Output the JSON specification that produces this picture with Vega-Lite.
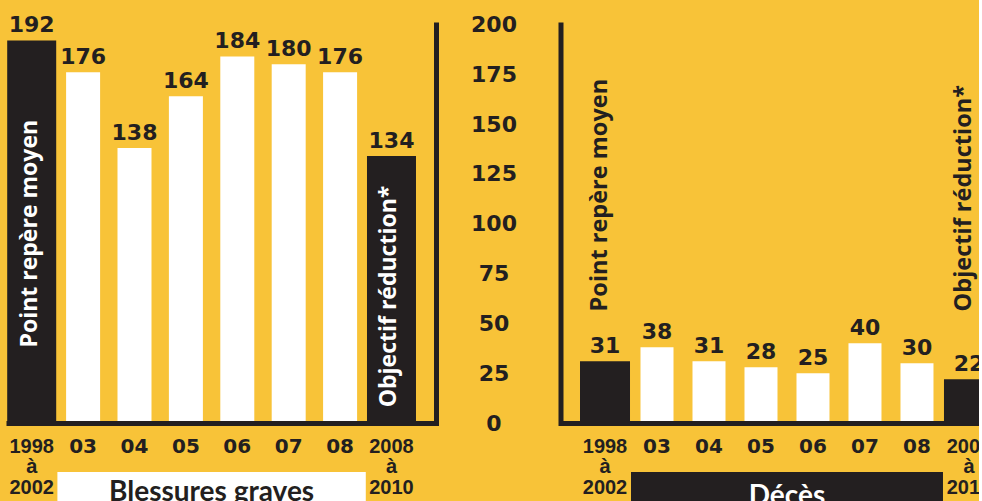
{
  "$schema": "https://vega.github.io/schema/vega-lite/v6.json",
  "background": "#F8C338",
  "padding": {"left": 6, "top": 13.5, "right": -32, "bottom": -12},
  "bounds": "flush",
  "spacing": 124.5,
  "resolve": {"scale": {"x": "independent", "y": "independent"}},
  "data": {
    "values": [
      {"panel": "Blessures graves", "periode": "1998 à 2002", "valeur": 192, "type": "moyenne", "note": "Point repère moyen"},
      {"panel": "Blessures graves", "periode": "03", "valeur": 176, "type": "annuel"},
      {"panel": "Blessures graves", "periode": "04", "valeur": 138, "type": "annuel"},
      {"panel": "Blessures graves", "periode": "05", "valeur": 164, "type": "annuel"},
      {"panel": "Blessures graves", "periode": "06", "valeur": 184, "type": "annuel"},
      {"panel": "Blessures graves", "periode": "07", "valeur": 180, "type": "annuel"},
      {"panel": "Blessures graves", "periode": "08", "valeur": 176, "type": "annuel"},
      {"panel": "Blessures graves", "periode": "2008 à 2010", "valeur": 134, "type": "objectif", "note": "Objectif réduction*"},
      {"panel": "Décès", "periode": "1998 à 2002", "valeur": 31, "type": "moyenne", "note": "Point repère moyen"},
      {"panel": "Décès", "periode": "03", "valeur": 38, "type": "annuel"},
      {"panel": "Décès", "periode": "04", "valeur": 31, "type": "annuel"},
      {"panel": "Décès", "periode": "05", "valeur": 28, "type": "annuel"},
      {"panel": "Décès", "periode": "06", "valeur": 25, "type": "annuel"},
      {"panel": "Décès", "periode": "07", "valeur": 40, "type": "annuel"},
      {"panel": "Décès", "periode": "08", "valeur": 30, "type": "annuel"},
      {"panel": "Décès", "periode": "2008 à 2010", "valeur": 22, "type": "objectif", "note": "Objectif réduction*"}
    ]
  },
  "hconcat": [
    {
      "width": 430,
      "height": 398.5,
      "transform": [{"filter": "datum.panel == 'Blessures graves'"}],
      "layer": [
        {
          "transform": [{"filter": "datum.type != 'annuel'"}],
          "mark": {"type": "bar", "size": 49, "color": "#231F20"},
          "encoding": {
            "x": {
              "field": "periode", "type": "nominal",
              "scale": {"domain": ["1998 à 2002", "03", "04", "05", "06", "07", "08", "2008 à 2010"], "paddingInner": 0, "paddingOuter": 0.183, "align": 0},
              "axis": {
                "title": null, "orient": "bottom", "domain": true, "domainColor": "#231F20", "domainWidth": 5,
                "ticks": false, "grid": false, "labelPadding": 13, "labelBaseline": "top", "labelLineHeight": 20.5,
                "labelAngle": 0, "labelOverlap": false, "labelBound": false, "labelFlush": false, "labelColor": "#231F20", "labelFontWeight": "bold",
                "labelFont": {"condition": {"test": "length(datum.value) > 2", "value": "Liberation Sans"}, "value": "DejaVu Sans"},
                "labelFontSize": {"condition": {"test": "length(datum.value) > 2", "value": 20}, "value": 20},
                "labelExpr": "datum.value == '1998 à 2002' ? ['1998', 'à', '2002'] : datum.value == '2008 à 2010' ? ['2008', 'à', '2010'] : datum.label",
                "zindex": 1
              }
            },
            "y": {
              "field": "valeur", "type": "quantitative",
              "scale": {"domain": [0, 200], "nice": false, "zero": true},
              "axis": {"title": null, "orient": "right", "labels": false, "ticks": false, "grid": false, "domain": true, "domainColor": "#231F20", "domainWidth": 5, "domainCap": "square", "zindex": 1}
            }
          }
        },
        {
          "transform": [{"filter": "datum.type == 'annuel'"}],
          "mark": {"type": "bar", "size": 34, "color": "#FFFFFF"},
          "encoding": {
            "x": {"field": "periode", "type": "nominal"},
            "y": {"field": "valeur", "type": "quantitative"}
          }
        },
        {
          "mark": {"type": "text", "baseline": "alphabetic", "dy": -8, "font": "DejaVu Sans", "fontSize": 22, "fontWeight": "bold", "color": "#231F20"},
          "encoding": {
            "x": {"field": "periode", "type": "nominal"},
            "y": {"field": "valeur", "type": "quantitative"},
            "text": {"field": "valeur", "type": "quantitative"}
          }
        },
        {
          "transform": [{"filter": "datum.periode == '1998 à 2002'"}],
          "mark": {"type": "text", "angle": 270, "align": "center", "baseline": "middle", "dy": -2, "font": "Open Sans", "fontSize": 23, "fontWeight": "bold", "color": "#FFFFFF"},
          "encoding": {
            "x": {"field": "periode", "type": "nominal"},
            "y": {"datum": 95, "type": "quantitative"},
            "text": {"field": "note", "type": "nominal"}
          }
        },
        {
          "transform": [{"filter": "datum.periode == '2008 à 2010'"}],
          "mark": {"type": "text", "angle": 270, "align": "center", "baseline": "middle", "dy": -2, "font": "Open Sans", "fontSize": 23, "fontWeight": "bold", "color": "#FFFFFF"},
          "encoding": {
            "x": {"field": "periode", "type": "nominal"},
            "y": {"datum": 63.5, "type": "quantitative"},
            "text": {"field": "note", "type": "nominal"}
          }
        },
        {
          "transform": [{"filter": "datum.periode == '1998 à 2002'"}],
          "mark": {"type": "rect", "color": "#FFFFFF"},
          "encoding": {
            "x": {"datum": "03", "type": "nominal", "bandPosition": 0},
            "x2": {"datum": "08", "bandPosition": 1},
            "y": {"datum": -24.6, "type": "quantitative"},
            "y2": {"datum": -45}
          }
        },
        {
          "transform": [{"filter": "datum.periode == '1998 à 2002'"}],
          "mark": {"type": "text", "align": "center", "baseline": "alphabetic", "font": "Lato", "fontSize": 28, "fontWeight": "bold", "color": "#231F20"},
          "encoding": {
            "x": {"datum": "05", "type": "nominal", "bandPosition": 1},
            "y": {"datum": -38.9, "type": "quantitative"},
            "text": {"field": "panel", "type": "nominal"}
          }
        }
      ]
    },
    {
      "width": 450.5,
      "height": 398.5,
      "transform": [{"filter": "datum.panel == 'Décès'"}],
      "layer": [
        {
          "transform": [{"filter": "datum.type != 'annuel'"}],
          "mark": {"type": "bar", "size": 50, "color": "#231F20"},
          "encoding": {
            "x": {
              "field": "periode", "type": "nominal",
              "scale": {"domain": ["1998 à 2002", "03", "04", "05", "06", "07", "08", "2008 à 2010"], "paddingInner": 0, "paddingOuter": 0.332, "align": 0.536},
              "axis": {
                "title": null, "orient": "bottom", "domain": true, "domainColor": "#231F20", "domainWidth": 5,
                "ticks": false, "grid": false, "labelPadding": 13, "labelBaseline": "top", "labelLineHeight": 20.5,
                "labelAngle": 0, "labelOverlap": false, "labelBound": false, "labelFlush": false, "labelColor": "#231F20", "labelFontWeight": "bold",
                "labelFont": {"condition": {"test": "length(datum.value) > 2", "value": "Liberation Sans"}, "value": "DejaVu Sans"},
                "labelFontSize": {"condition": {"test": "length(datum.value) > 2", "value": 20}, "value": 20},
                "labelExpr": "datum.value == '1998 à 2002' ? ['1998', 'à', '2002'] : datum.value == '2008 à 2010' ? ['2008', 'à', '2010'] : datum.label",
                "zindex": 1
              }
            },
            "y": {
              "field": "valeur", "type": "quantitative",
              "scale": {"domain": [0, 200], "nice": false, "zero": true},
              "axis": {
                "title": null, "orient": "left", "values": [0, 25, 50, 75, 100, 125, 150, 175, 200],
                "labels": true, "ticks": false, "grid": false, "domain": true, "domainColor": "#231F20", "domainWidth": 5, "domainCap": "square",
                "labelAlign": "center", "labelBaseline": "middle", "labelPadding": 67, "labelFont": "DejaVu Sans", "labelFontSize": 22, "labelFontWeight": "bold", "labelColor": "#231F20",
                "labelOverlap": false, "labelBound": false, "labelFlush": false, "zindex": 1
              }
            }
          }
        },
        {
          "transform": [{"filter": "datum.type == 'annuel'"}],
          "mark": {"type": "bar", "size": 33, "color": "#FFFFFF"},
          "encoding": {
            "x": {"field": "periode", "type": "nominal"},
            "y": {"field": "valeur", "type": "quantitative"}
          }
        },
        {
          "mark": {"type": "text", "baseline": "alphabetic", "dy": -8, "font": "DejaVu Sans", "fontSize": 22, "fontWeight": "bold", "color": "#231F20"},
          "encoding": {
            "x": {"field": "periode", "type": "nominal"},
            "y": {"field": "valeur", "type": "quantitative"},
            "text": {"field": "valeur", "type": "quantitative"}
          }
        },
        {
          "transform": [{"filter": "isValid(datum.note)"}],
          "mark": {"type": "text", "angle": 270, "align": "left", "baseline": "middle", "dy": -5, "font": "Open Sans", "fontSize": 23.5, "fontWeight": "bold", "color": "#231F20"},
          "encoding": {
            "x": {"field": "periode", "type": "nominal"},
            "y": {"datum": 56, "type": "quantitative"},
            "text": {"field": "note", "type": "nominal"}
          }
        },
        {
          "transform": [{"filter": "datum.periode == '1998 à 2002'"}],
          "mark": {"type": "rect", "color": "#231F20"},
          "encoding": {
            "x": {"datum": "03", "type": "nominal", "bandPosition": 0},
            "x2": {"datum": "08", "bandPosition": 1},
            "y": {"datum": -24.6, "type": "quantitative"},
            "y2": {"datum": -45}
          }
        },
        {
          "transform": [{"filter": "datum.periode == '1998 à 2002'"}],
          "mark": {"type": "text", "align": "center", "baseline": "alphabetic", "font": "Lato", "fontSize": 28, "fontWeight": "bold", "color": "#FFFFFF"},
          "encoding": {
            "x": {"datum": "05", "type": "nominal", "bandPosition": 1},
            "y": {"datum": -41.4, "type": "quantitative"},
            "text": {"field": "panel", "type": "nominal"}
          }
        }
      ]
    }
  ],
  "config": {
    "view": {"stroke": null},
    "font": "DejaVu Sans"
  }
}
